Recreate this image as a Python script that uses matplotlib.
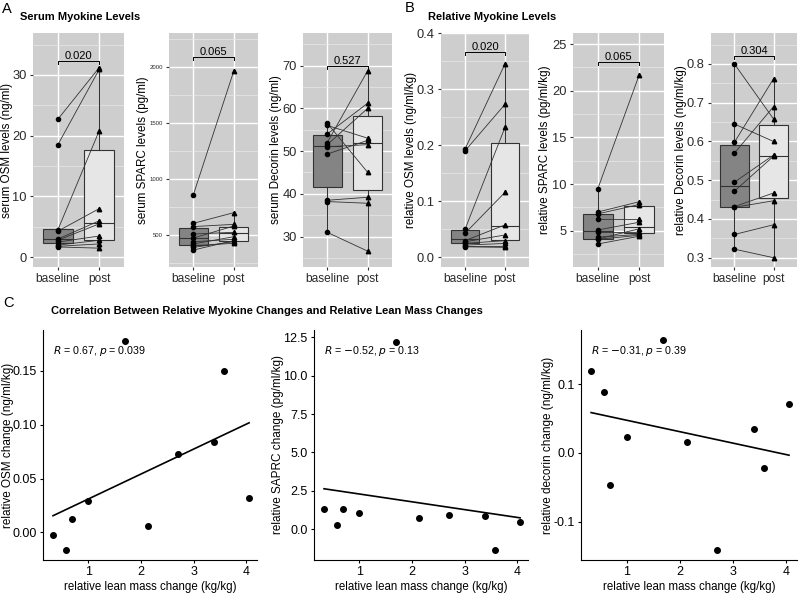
import numpy as np
import matplotlib.pyplot as plt
from matplotlib.ticker import MultipleLocator

plt.rcParams['font.family'] = ['Liberation Sans', 'DejaVu Sans']

# ---- panel A: serum myokine levels (baseline vs post) ----
osm_base = [22.7, 18.5, 4.5, 4.3, 3.0, 2.8, 2.5, 2.0, 1.8, 1.7]
osm_post = [31.2, 30.9, 20.8, 8.0, 6.0, 5.5, 3.5, 2.8, 2.2, 1.5]
osm_box = [(2.3, 3.0, 4.6, 1.7, 4.6), (2.9, 5.6, 17.6, 1.5, 31.2)]  # q1, med, q3, lo, hi

sparc_base = [856, 604, 575, 509, 473, 440, 420, 405, 366, 390]
sparc_post = [1960, 699, 595, 524, 580, 462, 485, 426, 450, 440]
sparc_box = [(411, 470, 565, 366, 604), (447, 520, 574, 426, 699)]

dcn_base = [52.0, 56.5, 56.0, 54.0, 51.5, 49.3, 51.0, 38.5, 38.2, 31.0]
dcn_post = [68.8, 45.0, 53.0, 61.2, 60.0, 52.5, 51.5, 39.2, 37.8, 26.6]
dcn_box = [(41.5, 51.2, 53.7, 31.0, 56.5), (40.8, 51.8, 58.2, 26.6, 68.8)]

# ---- panel B: relative myokine levels ----
rosm_base = [0.193, 0.190, 0.050, 0.043, 0.030, 0.028, 0.025, 0.022, 0.020, 0.019]
rosm_post = [0.345, 0.273, 0.232, 0.116, 0.058, 0.040, 0.030, 0.025, 0.020, 0.018]
rosm_box = [(0.025, 0.033, 0.049, 0.019, 0.050), (0.031, 0.056, 0.204, 0.018, 0.345)]

rsparc_base = [9.5, 7.0, 6.8, 6.3, 5.07, 4.9, 4.3, 4.07, 3.57, 4.1]
rsparc_post = [21.7, 8.1, 7.8, 6.3, 5.9, 4.9, 4.6, 4.5, 4.4, 5.2]
rsparc_box = [(4.1, 4.97, 6.76, 3.57, 9.5), (4.79, 5.36, 7.65, 4.4, 8.1)]

rdcn_base = [0.800, 0.645, 0.598, 0.570, 0.495, 0.472, 0.432, 0.430, 0.360, 0.322]
rdcn_post = [0.658, 0.600, 0.762, 0.690, 0.565, 0.562, 0.467, 0.447, 0.385, 0.300]
rdcn_box = [(0.432, 0.485, 0.591, 0.322, 0.800), (0.453, 0.563, 0.643, 0.300, 0.762)]

# ---- panel C: correlations ----
lean_chg = np.array([0.33, 0.58, 0.69, 1.0, 1.69, 2.14, 2.70, 3.39, 3.58, 4.05])
osm_chg = np.array([-0.0025, -0.0164, 0.0127, 0.029, 0.178, 0.0062, 0.0728, 0.084, 0.150, 0.0316])
sparc_chg = np.array([1.32, 0.24, 1.28, 1.02, 12.2, 0.72, 0.93, 0.85, -1.35, 0.46])
dcn_chg = np.array([0.119, 0.088, -0.047, 0.0237, 0.164, 0.016, -0.141, 0.035, -0.0224, 0.0707])

W, H = 800, 594
fig = plt.figure(figsize=(8, 5.94), dpi=100)


def add_ax(l, t, r, b):
    return fig.add_axes([l / W, 1 - b / H, (r - l) / W, (b - t) / H])


def paired_panel(ax, base, post, box, ylim, major, minor, bar_y, bar_h, p_txt,
                 ylabel, lab_x, tick_fs=9.3):
    ax.set_facecolor('#cecece')
    for s in ax.spines.values():
        s.set_visible(False)
    ax.set_xlim(0.4, 2.6)
    ax.set_ylim(*ylim)
    ax.yaxis.set_major_locator(MultipleLocator(major))
    ax.yaxis.set_minor_locator(MultipleLocator(minor))
    ax.grid(which='major', color='white', lw=1.0)
    ax.grid(which='minor', axis='y', color='#e8e8e8', lw=0.5)
    ax.set_axisbelow(True)

    stats = []
    for q1, med, q3, lo, hi in box:
        stats.append(dict(q1=q1, med=med, q3=q3, whislo=lo, whishi=hi, fliers=[]))
    bp = ax.bxp(stats, positions=[1, 2], widths=0.72, patch_artist=True,
                showfliers=False, showcaps=False,
                boxprops=dict(edgecolor='#333333', lw=0.8),
                medianprops=dict(color='#333333', lw=0.8),
                whiskerprops=dict(color='#333333', lw=0.8))
    bp['boxes'][0].set_facecolor('#848484')
    bp['boxes'][1].set_facecolor('#e6e6e6')

    for b, p in zip(base, post):
        ax.plot([1, 2], [b, p], color='#333333', lw=0.6, zorder=4)
    ax.plot(np.ones(len(base)), base, 'o', ms=3, color='black', zorder=5)
    ax.plot(np.full(len(post), 2), post, '^', ms=3.2, color='black', zorder=5)

    ax.plot([1, 1, 2, 2], [bar_y - bar_h, bar_y, bar_y, bar_y - bar_h],
            color='black', lw=0.7, zorder=5)
    ax.text(1.5, bar_y, p_txt, ha='center', va='bottom', fontsize=8)

    ax.set_xticks([1, 2], ['baseline', 'post'])
    ax.tick_params(axis='both', which='major', length=2.5, color='#333333',
                   labelcolor='#2a2a2a', pad=2)
    ax.tick_params(axis='x', labelsize=8.6)
    ax.tick_params(axis='y', labelsize=tick_fs)
    ax.tick_params(which='minor', length=0)
    ax.set_ylabel(ylabel, fontsize=8.4, va='center')
    ax.yaxis.set_label_coords(lab_x, 0.5)


ax = add_ax(33, 33, 124, 267)
paired_panel(ax, osm_base, osm_post, osm_box, (-1.6, 36.9), 10, 5, 32.3, 0.5,
             '0.020', 'serum OSM levels (ng/ml)', -0.29)

ax = add_ax(169, 33, 258, 267)
paired_panel(ax, sparc_base, sparc_post, sparc_box, (215, 2300), 500, 250, 2089, 28,
             '0.065', 'serum SPARC levels (pg/ml)', -0.29, tick_fs=4.3)

ax = add_ax(303, 33, 392, 267)
paired_panel(ax, dcn_base, dcn_post, dcn_box, (22.9, 77.6), 10, 5, 70.0, 0.7,
             '0.527', 'serum Decorin levels (ng/ml)', -0.30)

ax = add_ax(441, 33, 529, 267)
paired_panel(ax, rosm_base, rosm_post, rosm_box, (-0.017, 0.40), 0.1, 0.05, 0.366, 0.005,
             '0.020', 'relative OSM levels (ng/ml/kg)', -0.34)

ax = add_ax(573, 33, 664, 267)
paired_panel(ax, rsparc_base, rsparc_post, rsparc_box, (1.1, 26.2), 5, 2.5, 23.1, 0.35,
             '0.065', 'relative SPARC levels (pg/ml/kg)', -0.31)

ax = add_ax(711, 33, 797, 267)
paired_panel(ax, rdcn_base, rdcn_post, rdcn_box, (0.276, 0.88), 0.1, 0.05, 0.82, 0.008,
             '0.304', 'relative Decorin levels (ng/ml/kg)', -0.35)


def corr_panel(ax, y, ylim, yticks, ylabels, ylabel, r_txt, lab_x):
    for side in ['top', 'right']:
        ax.spines[side].set_visible(False)
    ax.plot(lean_chg, y, 'o', ms=4, color='black')
    coef = np.polyfit(lean_chg, y, 1)
    xs = np.array([lean_chg.min(), lean_chg.max()])
    ax.plot(xs, np.polyval(coef, xs), color='black', lw=1.2)
    ax.set_xlim(0.14, 4.2)
    ax.set_ylim(*ylim)
    ax.set_xticks([1, 2, 3, 4])
    ax.set_yticks(yticks, ylabels)
    ax.tick_params(length=2.5, labelsize=9, pad=2)
    ax.set_xlabel('relative lean mass change (kg/kg)', fontsize=8.3, labelpad=2)
    ax.set_ylabel(ylabel, fontsize=8.5, va='center')
    ax.yaxis.set_label_coords(lab_x, 0.5)
    ax.text(0.045, 0.91, r_txt, transform=ax.transAxes, fontsize=7.7, va='center')


ax = add_ax(43, 330, 257, 560)
corr_panel(ax, osm_chg, (-0.0257, 0.188), [0, 0.05, 0.10, 0.15],
           ['0.00', '0.05', '0.10', '0.15'], 'relative OSM change (ng/ml/kg)',
           r'$\it{R}$ = 0.67, $\it{p}$ = 0.039', -0.165)

ax = add_ax(314, 330, 528, 560)
corr_panel(ax, sparc_chg, (-2.02, 12.98), [0, 2.5, 5, 7.5, 10, 12.5],
           ['0.0', '2.5', '5.0', '7.5', '10.0', '12.5'], 'relative SAPRC change (pg/ml/kg)',
           r'$\it{R}$ = $-$0.52, $\it{p}$ = 0.13', -0.166)

ax = add_ax(581, 330, 797, 560)
corr_panel(ax, dcn_chg, (-0.156, 0.179), [-0.1, 0, 0.1],
           ['-0.1', '0.0', '0.1'], 'relative decorin change (ng/ml/kg)',
           r'$\it{R}$ = $-$0.31, $\it{p}$ = 0.39', -0.155)

fig.text(2 / W, 1 - 9 / H, 'A', fontsize=10.5, va='center')
fig.text(20 / W, 1 - 17 / H, 'Serum Myokine Levels', fontsize=8,
         fontweight='bold', va='center')
fig.text(405 / W, 1 - 8 / H, 'B', fontsize=10.5, va='center')
fig.text(428 / W, 1 - 17 / H, 'Relative Myokine Levels', fontsize=8,
         fontweight='bold', va='center')
fig.text(3 / W, 1 - 303 / H, 'C', fontsize=10.5, va='center')
fig.text(51 / W, 1 - 311 / H,
         'Correlation Between Relative Myokine Changes and Relative Lean Mass Changes',
         fontsize=8, fontweight='bold', va='center')

fig.savefig('out.png', dpi=100)
